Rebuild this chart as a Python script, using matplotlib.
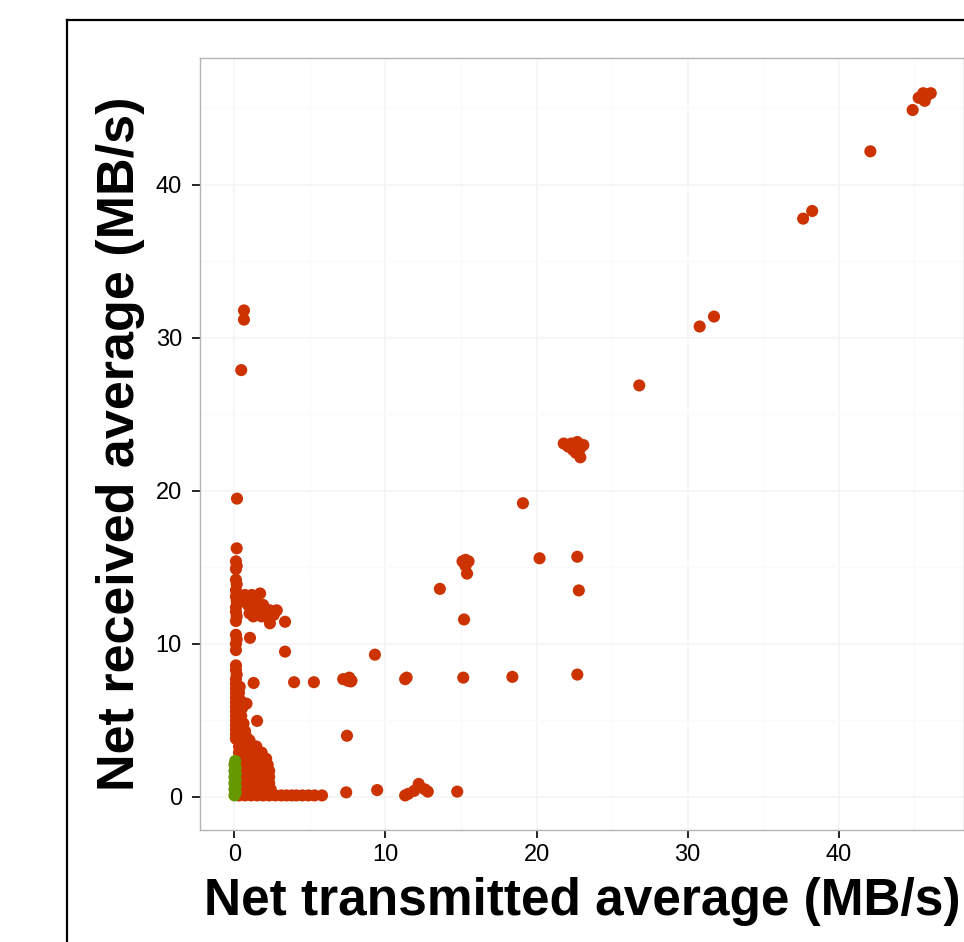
import matplotlib
matplotlib.use("Agg")
import matplotlib.pyplot as plt
from matplotlib.lines import Line2D

plt.rcParams['font.family'] = ['Liberation Sans', 'DejaVu Sans']

# red points: outliers and diagonal
red_x = [45.3, 45.6, 45.9, 46.1, 45.7, 44.9, 42.1, 38.25, 37.65, 31.75, 30.8, 26.8,
         21.8, 22.1, 22.4, 22.6, 22.9, 23.1, 22.9, 22.3, 22.7,
         19.1, 20.2, 22.7, 22.8, 22.7, 18.4,
         15.1, 15.3, 15.5, 15.3, 15.4,
         13.6, 15.2, 15.15, 9.3, 11.4, 11.3,
         7.2, 7.5, 7.7, 7.6, 7.75, 5.26, 3.95, 1.27, 7.45,
         14.75, 12.8, 12.6, 12.2, 11.9, 11.3, 11.5, 9.45, 7.4,
         0.63, 0.63, 0.45, 0.17]
red_y = [45.7, 46.0, 45.9, 46.0, 45.5, 44.9, 42.2, 38.3, 37.8, 31.4, 30.75, 26.9,
         23.1, 22.9, 22.7, 22.5, 22.8, 23.0, 22.2, 23.1, 23.2,
         19.2, 15.6, 15.7, 13.5, 8.0, 7.85,
         15.4, 15.5, 15.4, 15.1, 14.6,
         13.6, 11.6, 7.8, 9.3, 7.8, 7.7,
         7.7, 7.6, 7.55, 7.8, 7.6, 7.5, 7.5, 7.45, 4.0,
         0.35, 0.35, 0.5, 0.85, 0.4, 0.1, 0.2, 0.45, 0.3,
         31.8, 31.2, 27.9, 19.5]

# red points: column near x = 0
col_x = [0.15, 0.1, 0.15, 0.1, 0.1, 0.15, 0.1, 0.1, 0.15, 0.1, 0.1, 0.15, 0.1,
         0.1, 0.15, 0.1, 0.1, 0.1, 0.1, 0.15, 0.1, 0.1, 0.1, 0.1, 0.1, 0.1,
         0.1, 0.1, 0.1, 0.1, 0.1, 0.1, 0.1, 0.1]
col_y = [16.25, 15.4, 15.1, 14.9, 14.2, 13.9, 13.5, 13.1, 12.8, 12.4, 12.1, 11.8, 11.5,
         10.6, 10.3, 10.0, 9.6, 8.6, 8.3, 8.0, 7.7, 7.4, 7.1, 6.8, 6.5, 6.2,
         5.9, 5.6, 5.3, 5.0, 4.7, 4.4, 4.1, 3.8]

# red points: cluster around y = 12 and spread near the column
mid_x = [0.7, 1.15, 1.7, 1.4, 0.9, 1.45, 1.9, 2.35, 2.8, 1.25, 1.8, 2.35, 3.35,
         2.0, 1.6, 2.6, 0.5, 1.0, 1.03, 3.35,
         0.4, 0.5, 0.45, 0.6, 0.8, 1.5, 0.7, 0.8, 0.55, 0.3, 0.35]
mid_y = [13.2, 13.2, 13.3, 13.0, 12.55, 12.4, 12.55, 12.2, 12.2, 11.8, 11.8, 11.35, 11.45,
         12.0, 12.1, 11.9, 12.8, 12.0, 10.4, 9.5,
         6.3, 5.8, 5.3, 4.8, 6.1, 4.97, 4.3, 3.9, 3.5, 6.8, 7.2]

# red points: dense block near the origin
low_x = [0.3, 0.7, 1.0,
         0.3, 0.7, 1.1, 1.45,
         0.3, 0.7, 1.1, 1.5, 1.8,
         0.3, 0.7, 1.1, 1.5, 1.9, 2.1,
         0.3, 0.7, 1.1, 1.5, 1.9, 2.2,
         0.3, 0.7, 1.1, 1.5, 1.9, 2.3,
         0.3, 0.7, 1.1, 1.5, 1.9, 2.3,
         0.3, 0.7, 1.1, 1.5, 1.9, 2.3,
         0.3, 0.7, 1.1, 1.5, 1.9, 2.4,
         0.3, 0.7, 1.1, 1.5, 1.9, 2.3, 2.7, 3.1, 3.45, 3.8, 4.1, 4.5, 4.9, 5.3, 5.8]
low_y = [3.7, 3.7, 3.7,
         3.3, 3.3, 3.3, 3.3,
         2.9, 2.9, 2.9, 2.9, 2.9,
         2.5, 2.5, 2.5, 2.5, 2.5, 2.5,
         2.1, 2.1, 2.1, 2.1, 2.1, 2.1,
         1.7, 1.7, 1.7, 1.7, 1.7, 1.7,
         1.3, 1.3, 1.3, 1.3, 1.3, 1.3,
         0.9, 0.9, 0.9, 0.9, 0.9, 0.9,
         0.5, 0.5, 0.5, 0.5, 0.5, 0.5,
         0.1, 0.1, 0.1, 0.1, 0.1, 0.1, 0.1, 0.1, 0.1, 0.1, 0.1, 0.1, 0.1, 0.1, 0.1]

# green points
green_x = [0.0, 0.08, 0.0, 0.08, 0.0, 0.08, 0.0, 0.08, 0.0, 0.08, 0.0, 0.05]
green_y = [0.1, 0.3, 0.5, 0.7, 0.9, 1.1, 1.3, 1.5, 1.7, 1.9, 2.1, 2.35]

x_ticks = [0, 10, 20, 30, 40]
y_ticks = [0, 10, 20, 30, 40]

RED = '#CC3300'
GREEN = '#669900'

fig = plt.figure(figsize=(9.64, 9.42), dpi=100)
ax = fig.add_axes([200 / 964, 112 / 942, 764 / 964, 772 / 942])

all_rx = red_x + col_x + mid_x + low_x
all_ry = red_y + col_y + mid_y + low_y
ax.scatter(all_rx, all_ry, s=76, color=RED, edgecolors='none', zorder=3)
ax.scatter(green_x, green_y, s=76, color=GREEN, edgecolors='none', zorder=4)

ax.set_xlim(-2.28, 48.3)
ax.set_ylim(-2.16, 48.3)
ax.set_xticks(x_ticks)
ax.set_yticks(y_ticks)
ax.set_xticks([5, 15, 25, 35, 45], minor=True)
ax.set_yticks([5, 15, 25, 35, 45], minor=True)
ax.grid(which='major', color='#F5F5F5', lw=1.2, zorder=0)
ax.grid(which='minor', color='#FAFAFA', lw=0.8, zorder=0)
ax.set_axisbelow(True)
ax.tick_params(which='minor', length=0)
ax.tick_params(which='major', length=6, width=1.2, color='black',
               labelsize=17, labelcolor='black')
ax.tick_params(axis='y', pad=7)
ax.tick_params(axis='x', pad=4)
for sp in ax.spines.values():
    sp.set_color('#B3B3B3')
    sp.set_linewidth(1)

ax.set_xlabel('Net transmitted average (MB/s)', fontsize=37, fontweight='bold', labelpad=8)
ax.set_ylabel('Net received average (MB/s)', fontsize=37.5, fontweight='bold', labelpad=8)

# outer frame, cut off at right and bottom
fig.add_artist(Line2D([67 / 964, 67 / 964], [0, 1 - 20 / 942], transform=fig.transFigure,
                      color='black', lw=1.6))
fig.add_artist(Line2D([67 / 964, 1], [1 - 20 / 942, 1 - 20 / 942], transform=fig.transFigure,
                      color='black', lw=1.6))

fig.savefig('out.png', dpi=100)
